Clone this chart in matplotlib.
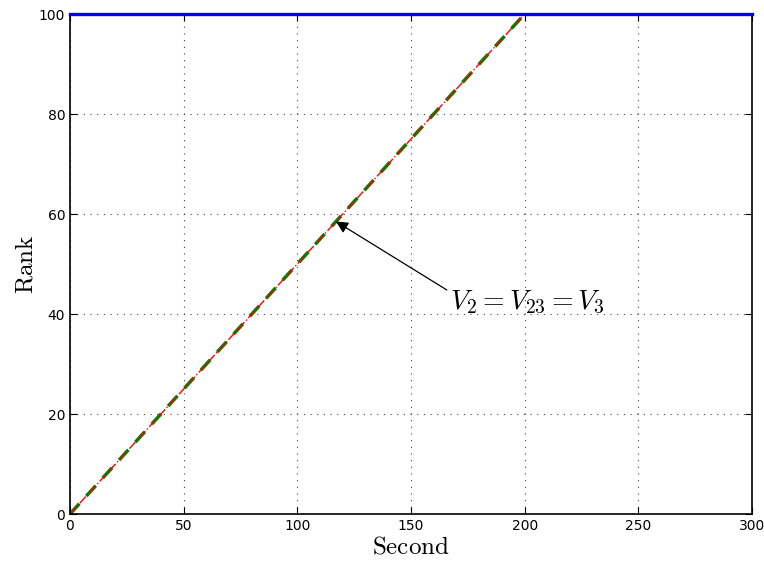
import matplotlib
matplotlib.use("Agg")
import matplotlib.pyplot as plt

plt.rcParams['mathtext.fontset'] = 'cm'

seconds = [0, 200, 300]
rank_v2 = [0, 100, 100]
rank_v23 = [0, 100, 100]
rank_full = [100, 100, 100]
xticks = [0, 50, 100, 150, 200, 250, 300]
yticks = [0, 20, 40, 60, 80, 100]

fig = plt.figure(figsize=(7.64, 5.65), dpi=100)
ax = fig.add_axes([70/764, 51/565, 682/764, 500/565])

ax.plot(seconds, rank_v2, color='#008000', linestyle='--', linewidth=2.5, dashes=(4, 3))
ax.plot(seconds, rank_v23, color='red', linestyle='-.', linewidth=1.0)
ax.plot(seconds, rank_full, color='blue', linewidth=2.4, clip_on=False, zorder=5)

ax.set_xlim(0, 300)
ax.set_ylim(0, 100)
ax.set_xticks(xticks)
ax.set_yticks(yticks)
ax.tick_params(direction='in', top=True, right=True, labelsize=10, length=5)
ax.grid(True, color='#444444', linestyle=(0, (1, 5)), linewidth=0.8)
for s in ax.spines.values():
    s.set_linewidth(1.2)

ax.set_xlabel(r'$\mathrm{Second}$', fontsize=18, labelpad=1)
ax.set_ylabel(r'$\mathrm{Rank}$', fontsize=18, labelpad=1)

ax.annotate(r'$V_2 = V_{23} = V_3$', xy=(117, 58.5), xytext=(167, 42.5),
            fontsize=20, va='center', ha='left',
            arrowprops=dict(arrowstyle='-|>', color='black', lw=0.9,
                            mutation_scale=18, shrinkA=0, shrinkB=0,
                            relpos=(0, 0.85)))

fig.savefig('out.png', dpi=100)
